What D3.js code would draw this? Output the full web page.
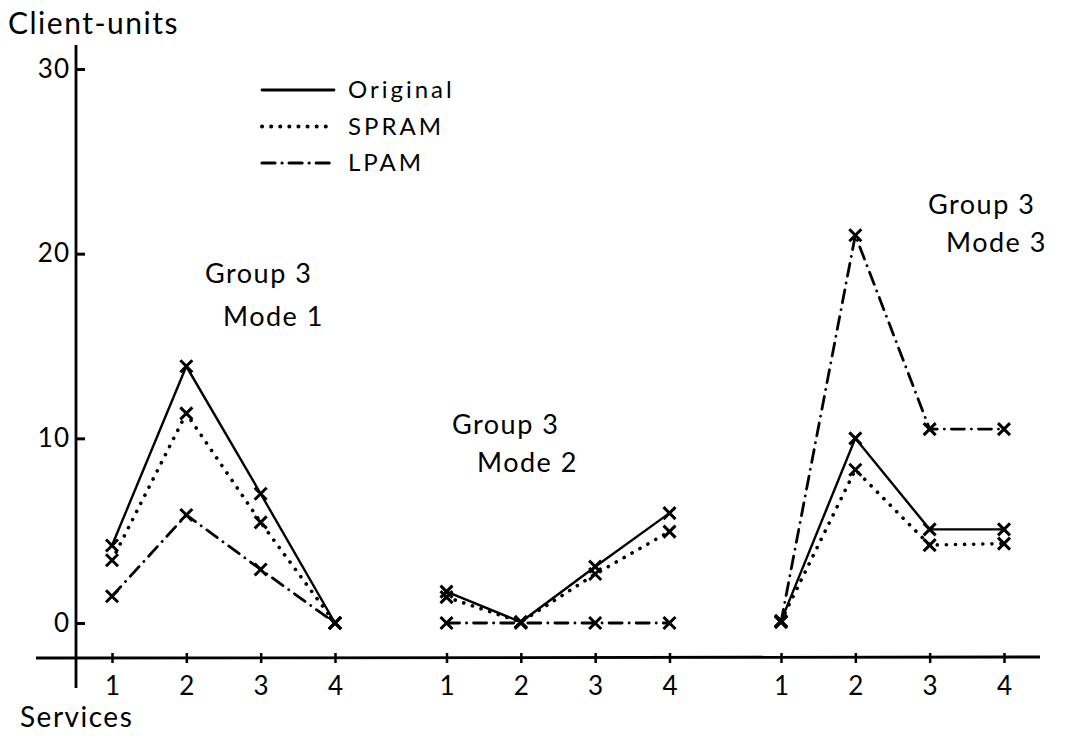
<!DOCTYPE html>
<html lang="en">
<head>
    <meta charset="UTF-8">
    <title>Client-units by service</title>
    <style>
        body { margin: 0; background: #fff; }
        text { font-family: "Lato", "DejaVu Sans", sans-serif; fill: #000; }
    </style>
</head>
<body>
    <div id="chart"></div>

    <script src="https://d3js.org/d3.v7.min.js"></script>
    <script>
        // Data
        var modes = ["Mode 1", "Mode 2", "Mode 3"];
        var services = [1, 2, 3, 4];
        var original = [[4.2, 13.9, 7.0, 0], [1.7, 0.05, 3.05, 5.95], [0.1, 10.0, 5.07, 5.07]];
        var spram = [[3.4, 11.35, 5.45, 0], [1.4, 0.05, 2.65, 4.95], [0.1, 8.3, 4.22, 4.3]];
        var lpam = [[1.45, 5.85, 2.9, 0], [0, 0, 0, 0], [0.05, 21.0, 10.5, 10.5]];
        var yTicks = [0, 10, 20, 30];

        var series = [
            { name: "Original", values: original, dash: null, w: 2.4 },
            { name: "SPRAM", values: spram, dash: "0.1,9", w: 3.6 },
            { name: "LPAM", values: lpam, dash: "13,7,0.1,7", w: 2.8 }
        ];

        var width = 1068, height = 736;

        var svg = d3.select("#chart").append("svg")
            .attr("width", width)
            .attr("height", height);

        // Scales: one point per mode, and services spread inside each mode
        var yScale = d3.scaleLinear().domain([0, 30]).range([623, 69]);
        var modeScale = d3.scalePoint().domain(modes).range([112, 781]);
        var serviceScale = d3.scaleLinear().domain([1, 4]).range([0, 223]);

        function xPos(m, s) {
            return modeScale(modes[m]) + serviceScale(services[s]);
        }

        // y axis
        svg.append("line")
            .attr("x1", 76).attr("x2", 76)
            .attr("y1", 45).attr("y2", 688)
            .attr("stroke", "#000").attr("stroke-width", 2.8);

        var yAxis = d3.axisLeft(yScale)
            .tickValues(yTicks)
            .tickSizeInner(-9)
            .tickSizeOuter(0)
            .tickPadding(6);

        var yG = svg.append("g")
            .attr("transform", "translate(76,0)")
            .call(yAxis);
        yG.select(".domain").remove();
        yG.selectAll(".tick line").attr("stroke-width", 3);
        yG.selectAll(".tick text")
            .style("font-size", "26px")
            .style("letter-spacing", "1px")
            .style("font-family", "Lato, 'DejaVu Sans', sans-serif");

        // x axis
        svg.append("line")
            .attr("x1", 36).attr("x2", 1040)
            .attr("y1", 658).attr("y2", 657)
            .attr("stroke", "#000").attr("stroke-width", 2.8);

        modes.forEach(function(m) {
            var g = svg.append("g")
                .attr("transform", "translate(" + modeScale(m) + ",658)")
                .call(d3.axisBottom(serviceScale)
                    .tickValues(services)
                    .tickFormat(d3.format("d"))
                    .tickSizeInner(5)
                    .tickSizeOuter(0)
                    .tickPadding(14));
            g.select(".domain").remove();
            g.selectAll(".tick line").attr("y1", -5).attr("stroke-width", 2.5);
            g.selectAll(".tick text")
                .style("font-size", "26px")
                .style("font-family", "Lato, 'DejaVu Sans', sans-serif");
        });

        // Axis titles
        svg.append("text").attr("x", 8).attr("y", 34)
            .style("font-size", "30px").style("letter-spacing", "1.5px")
            .text("Client-units");
        svg.append("text").attr("x", 20).attr("y", 727)
            .style("font-size", "28px").style("letter-spacing", "1.5px")
            .text("Services");

        // Lines
        var line = d3.line()
            .x(function(d) { return d.x; })
            .y(function(d) { return d.y; });

        var marks = svg.append("g").attr("class", "series");

        series.forEach(function(ser) {
            ser.values.forEach(function(vals, m) {
                var pts = vals.map(function(v, s) {
                    return { x: xPos(m, s), y: yScale(v) };
                });
                marks.append("path")
                    .datum(pts)
                    .attr("d", line)
                    .attr("fill", "none")
                    .attr("stroke", "#000")
                    .attr("stroke-width", ser.w)
                    .attr("stroke-linecap", "round")
                    .attr("stroke-dasharray", ser.dash);

                marks.selectAll(null)
                    .data(pts)
                    .enter()
                    .append("path")
                    .attr("d", function(d) {
                        var r = 6;
                        return "M" + (d.x - r) + "," + (d.y - r) + "L" + (d.x + r) + "," + (d.y + r) +
                            "M" + (d.x - r) + "," + (d.y + r) + "L" + (d.x + r) + "," + (d.y - r);
                    })
                    .attr("stroke", "#000")
                    .attr("stroke-width", 3);
            });
        });

        // Legend
        var legend = svg.append("g").attr("class", "legend");
        series.forEach(function(ser, i) {
            var ly = 90 + i * 36.5;
            legend.append("line")
                .attr("x1", 262).attr("x2", 334)
                .attr("y1", ly).attr("y2", ly)
                .attr("stroke", "#000")
                .attr("stroke-width", ser.w + 0.4)
                .attr("stroke-linecap", "round")
                .attr("stroke-dasharray", ser.dash);
            legend.append("text")
                .attr("x", 348).attr("y", ly + 8)
                .style("font-size", "24px")
                .style("letter-spacing", "3px")
                .text(ser.name);
        });

        // Group labels
        var groupLabels = [
            { x: 205, y: 283, t: "Group 3" }, { x: 223, y: 326, t: "Mode 1" },
            { x: 452, y: 434, t: "Group 3" }, { x: 477, y: 472, t: "Mode 2" },
            { x: 928, y: 214, t: "Group 3" }, { x: 946, y: 252, t: "Mode 3" }
        ];
        svg.append("g").selectAll("text")
            .data(groupLabels)
            .enter()
            .append("text")
            .attr("x", function(d) { return d.x; })
            .attr("y", function(d) { return d.y; })
            .style("font-size", "27px")
            .style("letter-spacing", "1.5px")
            .text(function(d) { return d.t; });
    </script>
</body>
</html>
